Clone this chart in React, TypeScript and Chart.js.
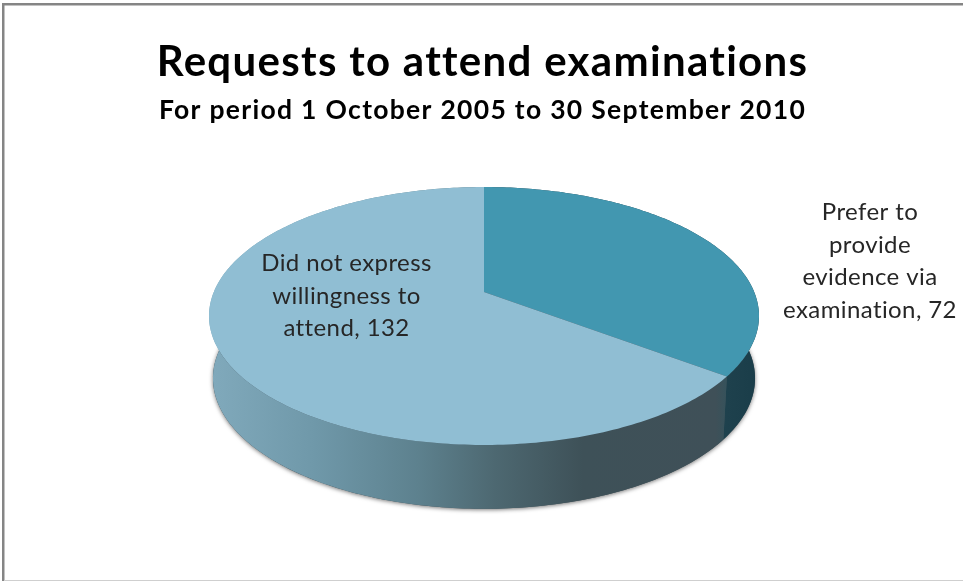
import React, { useEffect, useRef } from "react";
import { Chart, registerables } from "chart.js";

Chart.register(...registerables);

const titleText = "Requests to attend examinations";
const subtitleText = "For period 1 October 2005 to 30 September 2010";
const categories = ["Prefer to provide evidence via examination", "Did not express willingness to attend"];
const requestCounts = [72, 132];
const topColors = ["#4297b0", "#90bed3"];
// Wrapped label text per slice; the count is appended to the last line.
const labelLines = [
  ["Prefer to", "provide", "evidence via", "examination,"],
  ["Did not express", "willingness to", "attend,"],
];

type Disc = { cx: number; cy: number; a: number; b: number; k: number };

// A circular disc seen in perspective: nearer points spread out, so the hub sits behind the ellipse centre.
const topDisc: Disc = { cx: 484, cy: 292, a: 270.2, b: 124.5, k: 0.186 };
const baseDisc: Disc = { cx: 484, cy: 354, a: 266.3, b: 126, k: 0.186 };
const labelAnchors = [
  { x: 870, y: 212 },
  { x: 346.5, y: 263 },
];
const labelLineHeight = 32.8;
const headingSpacing = "1.3px";

function project(d: Disc, angle: number) {
  const u = Math.cos(angle);
  const v = Math.sin(angle);
  const w = 1 - d.k * v;
  return { x: d.cx + (d.a * u) / w, y: d.cy + (d.b * v) / w };
}

function traceArc(ctx: CanvasRenderingContext2D, d: Disc, from: number, to: number, move: boolean) {
  const steps = Math.max(2, Math.ceil(Math.abs(to - from) * 60));
  for (let i = 0; i <= steps; i++) {
    const p = project(d, from + ((to - from) * i) / steps);
    if (i === 0 && move) ctx.moveTo(p.x, p.y);
    else ctx.lineTo(p.x, p.y);
  }
}

function wallFill(ctx: CanvasRenderingContext2D, index: number) {
  if (index === 0) {
    const g = ctx.createLinearGradient(720, 0, 757, 0);
    g.addColorStop(0, "#1f424e");
    g.addColorStop(1, "#1a3d49");
    return g;
  }
  const g = ctx.createLinearGradient(213, 0, 726, 0);
  g.addColorStop(0, "#80a9bb");
  g.addColorStop(0.2, "#6f98a9");
  g.addColorStop(0.4, "#5d818e");
  g.addColorStop(0.55, "#4d6871");
  g.addColorStop(0.72, "#3e5158");
  g.addColorStop(0.98, "#3f5058");
  g.addColorStop(1, "#36525b");
  return g;
}

const tiltedPie = {
  id: "tiltedPie",
  beforeLayout(chart: any) {
    // The wide spacing applies to the title block, which is measured during layout.
    chart.ctx.letterSpacing = headingSpacing;
  },
  beforeDraw(chart: any) {
    const { ctx, width, height } = chart;
    ctx.letterSpacing = headingSpacing;
    ctx.save();
    ctx.fillStyle = "#ffffff";
    ctx.fillRect(0, 0, width, height);
    ctx.fillStyle = "#858585";
    ctx.fillRect(2, 3, width - 2, 2.5);
    ctx.fillRect(2, 3, 2.5, height - 3);
    ctx.fillStyle = "#cfcfcf";
    ctx.fillRect(4, height - 1, width - 4, 1);
    ctx.restore();
  },
  beforeDatasetsDraw(chart: any) {
    const { ctx } = chart;
    const arcs = chart.getDatasetMeta(0).data;
    ctx.save();

    // Soft drop shadow under the base of the disc.
    ctx.save();
    ctx.shadowColor = "rgba(0,0,0,0.55)";
    ctx.shadowBlur = 4;
    ctx.shadowOffsetY = 1;
    ctx.fillStyle = "#3f5058";
    ctx.beginPath();
    traceArc(ctx, baseDisc, 0, Math.PI * 2, true);
    ctx.closePath();
    ctx.fill();
    ctx.restore();

    // Side walls between the rim of the top face and the base.
    arcs.forEach((arc: any, i: number) => {
      ctx.beginPath();
      traceArc(ctx, topDisc, arc.startAngle, arc.endAngle, true);
      traceArc(ctx, baseDisc, arc.endAngle, arc.startAngle, false);
      ctx.closePath();
      ctx.fillStyle = wallFill(ctx, i);
      ctx.fill();
    });

    // Top faces, running from the hub out to the rim.
    arcs.forEach((arc: any) => {
      ctx.beginPath();
      ctx.moveTo(topDisc.cx, topDisc.cy);
      traceArc(ctx, topDisc, arc.startAngle, arc.endAngle, false);
      ctx.closePath();
      ctx.fillStyle = arc.options.backgroundColor;
      ctx.fill();
    });
    ctx.restore();
    return false;
  },
  afterDraw(chart: any) {
    const { ctx } = chart;
    const values = chart.data.datasets[0].data;
    ctx.save();
    ctx.letterSpacing = "0.4px";
    ctx.font = '400 24px Lato, "Open Sans", sans-serif';
    ctx.fillStyle = "#262626";
    ctx.textAlign = "center";
    ctx.textBaseline = "middle";
    labelLines.forEach((lines, i) => {
      lines.forEach((line, j) => {
        const text = j === lines.length - 1 ? `${line} ${values[i]}` : line;
        ctx.fillText(text, labelAnchors[i].x, labelAnchors[i].y + j * labelLineHeight);
      });
    });
    ctx.restore();
  },
};

export default function App() {
  const ref = useRef<HTMLCanvasElement | null>(null);
  useEffect(() => {
    if (!ref.current) return;
    const chart = new Chart(ref.current, {
      type: "pie",
      data: {
        labels: categories,
        datasets: [{ data: requestCounts, backgroundColor: topColors, borderWidth: 0 }],
      },
      options: {
        responsive: false,
        animation: false,
        layout: { padding: { left: 2, top: 37 } },
        plugins: {
          legend: { display: false },
          tooltip: { enabled: false },
          title: {
            display: true,
            text: titleText,
            color: "#000000",
            font: { family: "Lato, sans-serif", size: 42, weight: "bold" },
            padding: { top: 0, bottom: 7 },
          },
          subtitle: {
            display: true,
            text: subtitleText,
            color: "#000000",
            font: { family: "Lato, sans-serif", size: 26.5, weight: "bold" },
            padding: { top: 0, bottom: 10 },
          },
        },
      },
      plugins: [tiltedPie],
    });
    return () => chart.destroy();
  }, []);
  return (
    <div style={{ position: "fixed", left: 0, top: 0, width: 963, height: 581 }}>
      <canvas ref={ref} width={963} height={581} style={{ display: "block" }} />
    </div>
  );
}
